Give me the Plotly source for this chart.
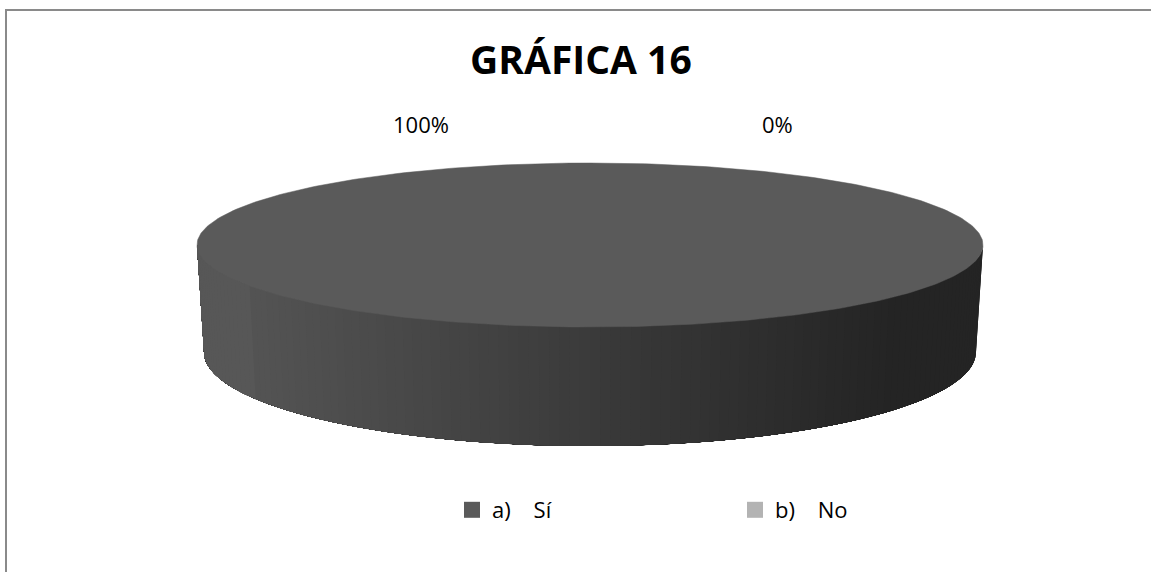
import numpy as np
import plotly.graph_objects as go

# Survey answers for chart 16
categories = ["a)\u00a0\u00a0\u00a0\u00a0Sí", "b)\u00a0\u00a0\u00a0\u00a0No"]
values = [100, 0]
slice_colors = ["#5a5a5a", "#b3b3b3"]
title_text = "GRÁFICA 16"

W, H = 1151, 572
FONT = "Open Sans"

# Pie geometry in pixel space (y grows downward)
CX, CY_TOP, RX_TOP, RY_TOP = 590.0, 245.0, 393.0, 82.0
CY_BOT, RX_BOT, RY_BOT = 352.0, 386.0, 94.0


def hex_to_rgb(h):
    h = h.lstrip("#")
    return tuple(int(h[i:i + 2], 16) for i in (0, 2, 4))


def side_shade(base_hex, x):
    """Darken the side wall from left (lit) to right (shadow)."""
    r, g, b = hex_to_rgb(base_hex)
    ref = 0x5a
    if x <= 250:
        lvl = 87
    elif x >= 900:
        lvl = 36
    else:
        lvl = 84 - (84 - 36) * (x - 250) / (900 - 250)
    f = lvl / ref
    return "rgb({},{},{})".format(int(min(255, r * f)), int(min(255, g * f)), int(min(255, b * f)))


total = float(sum(values))
fracs = [v / total for v in values]
bounds = np.concatenate([[0.0], np.cumsum(fracs)]) * 2 * np.pi  # clockwise from 12 o'clock

fig = go.Figure()


def wall_band(ta, tb, n=60):
    """Polygon of the side wall between screen angles ta..tb (lower half)."""
    ts = np.linspace(ta, tb, n)
    xs = np.concatenate([CX + RX_TOP * np.cos(ts), (CX + RX_BOT * np.cos(ts))[::-1]])
    ys = np.concatenate([CY_TOP + RY_TOP * np.sin(ts), (CY_BOT + RY_BOT * np.sin(ts))[::-1]])
    return list(xs) + [xs[0]], list(ys) + [ys[0]]


# Side wall: visible front half; each band reaches to the left end and is
# painted right-to-left so later bands overlap earlier ones without seams
N = 120
front = np.linspace(0, np.pi, N + 1)  # screen angle, 0 = right, pi = left
for k in range(N):
    t0, t1 = front[k], front[k + 1]
    tm = 0.5 * (t0 + t1)
    phi = (np.pi / 2 + tm) % (2 * np.pi)  # clockwise-from-top angle
    idx = None
    for i in range(len(values)):
        if values[i] > 0 and bounds[i] <= phi < bounds[i + 1] + 1e-12:
            idx = i
            break
    if idx is None:
        continue
    phi_end = bounds[idx + 1]
    t_end = min(np.pi, (phi_end - np.pi / 2) % (2 * np.pi) or np.pi)
    t_end = max(t_end, t1)
    xs, ys = wall_band(t0, t_end)
    xm = 0.5 * (CX + RX_TOP * np.cos(t0) + CX + RX_TOP * np.cos(t1))
    col = side_shade(slice_colors[idx], xm)
    fig.add_trace(go.Scatter(
        x=xs, y=ys, mode="lines", fill="toself",
        fillcolor=col, line=dict(width=0),
        hoverinfo="skip", showlegend=False))

# Top face of each slice
for i, v in enumerate(values):
    if v <= 0:
        continue
    phis = np.linspace(bounds[i], bounds[i + 1], 361)
    xs = CX + RX_TOP * np.sin(phis)
    ys = CY_TOP - RY_TOP * np.cos(phis)
    if fracs[i] < 1.0:
        xs = np.concatenate([[CX], xs, [CX]])
        ys = np.concatenate([[CY_TOP], ys, [CY_TOP]])
    fig.add_trace(go.Scatter(
        x=xs, y=ys, mode="lines", fill="toself", fillcolor=slice_colors[i],
        line=dict(width=0.5, color=slice_colors[i]),
        hoverinfo="skip", showlegend=False))

# Legend entries
for name, col in zip(categories, slice_colors):
    fig.add_trace(go.Scatter(
        x=[None], y=[None], mode="markers", name=name,
        marker=dict(symbol="square", size=16, color=col)))

# Percentage labels
label_pos = [(421, 124), (777, 124)]
for (lx, ly), f in zip(label_pos, fracs):
    fig.add_annotation(x=lx, y=ly, xref="x", yref="y", text="{:.0f}%".format(f * 100),
                       showarrow=False, font=dict(family=FONT, size=22, color="#000000"))

# Title
fig.add_annotation(x=581, y=58, xref="x", yref="y", text="<b>{}</b>".format(title_text),
                   showarrow=False, font=dict(family=FONT, size=39, color="#000000"))

# Chart frame
fig.add_shape(type="rect", xref="x", yref="y", x0=6, y0=10, x1=W + 20, y1=H + 20,
              line=dict(color="#8a8a8a", width=2), layer="above")

fig.update_layout(
    width=W, height=H,
    margin=dict(l=0, r=0, t=0, b=0),
    paper_bgcolor="white", plot_bgcolor="white",
    xaxis=dict(range=[0, W], visible=False, fixedrange=True),
    yaxis=dict(range=[H, 0], visible=False, fixedrange=True),
    legend=dict(orientation="h", x=452 / W, xanchor="left",
                y=1 - 510 / H, yanchor="middle",
                entrywidth=238, entrywidthmode="pixels",
                font=dict(family=FONT, size=22, color="#000000"),
                bgcolor="rgba(0,0,0,0)"),
    font=dict(family=FONT),
)

fig.write_html("out.html")
